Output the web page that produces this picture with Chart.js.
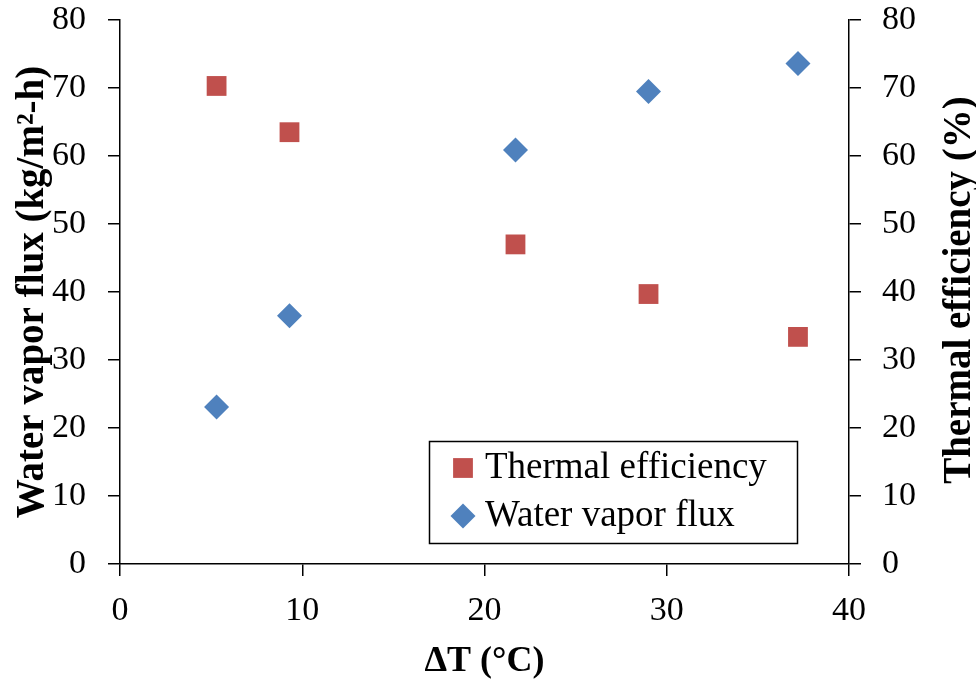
<!DOCTYPE html>
<html lang="en">
<head>
    <meta charset="UTF-8">
    <title>Water vapor flux and thermal efficiency vs dT</title>
    <script src="https://cdn.jsdelivr.net/npm/chart.js"></script>
    <style>
        body { margin: 0; background: #fff; }
        #chart { display: block; }
    </style>
</head>
<body>
    <canvas id="chart" width="976" height="684"></canvas>
    <script>
        // --- data ---
        const deltaT = [5.3, 9.3, 21.7, 29.0, 37.2];
        const vaporFlux = [23.1, 36.5, 60.9, 69.5, 73.6];
        const thermalEff = [70.3, 63.5, 47.0, 39.7, 33.4];
        const xTicks = [0, 10, 20, 30, 40];
        const yTicks = [0, 10, 20, 30, 40, 50, 60, 70, 80];

        const serif = '"Liberation Serif", "Times New Roman", serif';
        const red = '#C0504D';
        const blue = '#4F81BD';

        function pairs(xs, ys) {
            return xs.map((x, i) => ({ x: x, y: ys[i] }));
        }

        function axisStyle() {
            return {
                grid: { display: true, drawOnChartArea: false, drawTicks: true, tickLength: 12, color: '#000', lineWidth: 1.5 },
                border: { display: true, color: '#000', width: 1.5 }
            };
        }

        // fixed box sizes so the plot area sits where the original has it
        function fitVertical(width) {
            return function (scale) {
                scale.width = width;
                scale.paddingTop = 20;
                scale.paddingBottom = 0;
            };
        }

        // right-hand title reads bottom to top, so draw it by hand
        const rightTitle = {
            id: 'rightTitle',
            afterDraw(chart) {
                const ctx = chart.ctx;
                ctx.save();
                ctx.translate(960, 290);
                ctx.rotate(-Math.PI / 2);
                ctx.font = 'bold 39px ' + serif;
                ctx.fillStyle = '#000';
                ctx.textAlign = 'center';
                ctx.textBaseline = 'middle';
                ctx.fillText('Thermal efficiency (%)', 0, 0);
                ctx.restore();
            }
        };

        // boxed legend inside the plot area
        const boxLegend = {
            id: 'boxLegend',
            afterDraw(chart) {
                const ctx = chart.ctx;
                const box = { left: 429.5, top: 441.5, right: 797.5, bottom: 543.5 };
                ctx.save();
                ctx.fillStyle = '#fff';
                ctx.fillRect(box.left, box.top, box.right - box.left, box.bottom - box.top);
                ctx.strokeStyle = '#000';
                ctx.lineWidth = 1.5;
                ctx.strokeRect(box.left, box.top, box.right - box.left, box.bottom - box.top);
                const rows = [468, 516];
                chart.data.datasets.forEach((ds, i) => {
                    ctx.fillStyle = ds.backgroundColor;
                    Chart.helpers.drawPoint(ctx, {
                        pointStyle: ds.pointStyle,
                        radius: ds.pointRadius,
                        rotation: 0,
                        borderWidth: 0
                    }, 463, rows[i]);
                    ctx.fillStyle = '#000';
                    ctx.font = '37px ' + serif;
                    ctx.textAlign = 'left';
                    ctx.textBaseline = 'middle';
                    ctx.fillText(ds.label, 485, rows[i]);
                });
                ctx.restore();
            }
        };

        new Chart(document.getElementById('chart'), {
            type: 'scatter',
            data: {
                datasets: [
                    {
                        label: 'Thermal efficiency',
                        data: pairs(deltaT, thermalEff),
                        yAxisID: 'y2',
                        pointStyle: 'rect',
                        pointRadius: 14,
                        backgroundColor: red,
                        borderWidth: 0
                    },
                    {
                        label: 'Water vapor flux',
                        data: pairs(deltaT, vaporFlux),
                        yAxisID: 'y',
                        pointStyle: 'rectRot',
                        pointRadius: 12.5,
                        backgroundColor: blue,
                        borderWidth: 0
                    }
                ]
            },
            options: {
                responsive: false,
                animation: false,
                layout: { padding: 0 },
                plugins: {
                    legend: { display: false },
                    tooltip: { enabled: false }
                },
                scales: {
                    x: Object.assign(axisStyle(), {
                        type: 'linear',
                        min: xTicks[0],
                        max: xTicks[xTicks.length - 1],
                        afterBuildTicks(scale) { scale.ticks = xTicks.map(v => ({ value: v })); },
                        afterFit(scale) { scale.height = 120; },
                        ticks: { color: '#000', padding: 15, font: { family: serif, size: 34 } },
                        title: {
                            display: true, text: 'ΔT (°C)', color: '#000',
                            font: { family: serif, size: 36, weight: 'bold', lineHeight: 1 },
                            padding: { top: 0, bottom: 4 }
                        }
                    }),
                    y: Object.assign(axisStyle(), {
                        type: 'linear',
                        position: 'left',
                        min: yTicks[0],
                        max: yTicks[yTicks.length - 1],
                        afterBuildTicks(scale) { scale.ticks = yTicks.map(v => ({ value: v })); },
                        afterFit: fitVertical(120),
                        ticks: { color: '#000', padding: 22, font: { family: serif, size: 34 } },
                        title: {
                            display: true, text: 'Water vapor flux (kg/m²-h)', color: '#000',
                            font: { family: serif, size: 39, weight: 'bold', lineHeight: 1 },
                            padding: { top: 13, bottom: 0 }
                        }
                    }),
                    y2: Object.assign(axisStyle(), {
                        type: 'linear',
                        position: 'right',
                        min: yTicks[0],
                        max: yTicks[yTicks.length - 1],
                        afterBuildTicks(scale) { scale.ticks = yTicks.map(v => ({ value: v })); },
                        afterFit: fitVertical(127),
                        ticks: { color: '#000', padding: 21, font: { family: serif, size: 34 } }
                    })
                }
            },
            plugins: [rightTitle, boxLegend]
        });
    </script>
</body>
</html>
